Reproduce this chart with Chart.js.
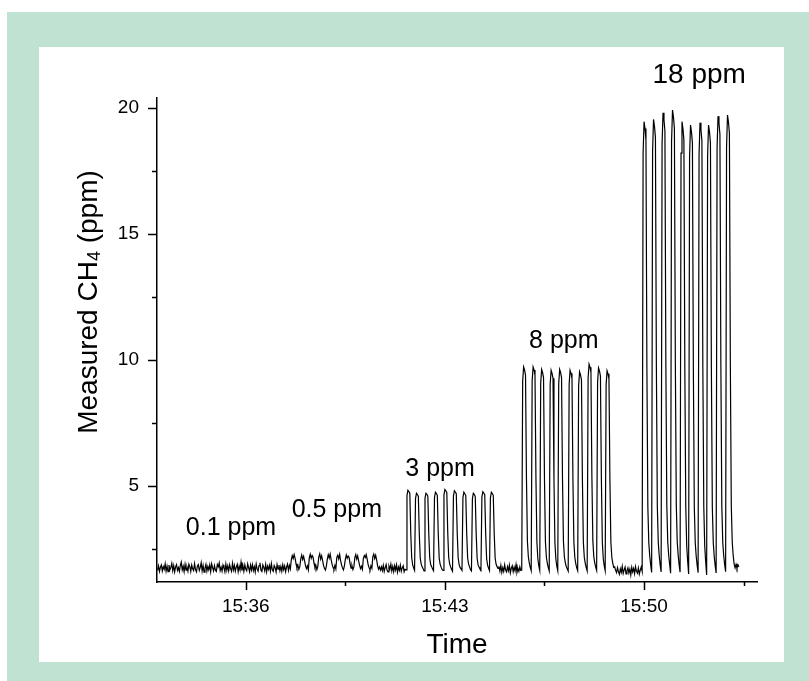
<!DOCTYPE html>
<html>
<head>
<meta charset="utf-8">
<script src="https://cdn.jsdelivr.net/npm/chart.js@4.4.1/dist/chart.umd.min.js"></script>
<style>
  html, body { margin: 0; padding: 0; background: #fff; }
  #wrap { width: 809px; height: 681px; }
</style>
</head>
<body>
<div id="wrap"><canvas id="ch4Chart" width="809" height="681"></canvas></div>
<script>
// analyser log: one reading every 2 s, first reading at 15:32.9
const startMinute = 32.9;      // minutes after 15:00
const sampleStep = 2 / 60;     // minutes per reading

// 0.1 ppm step - no response visible above the baseline
const run01 = [
  1.66,1.84,1.62,1.79,1.88,1.64,1.81,1.70,1.92,1.63,
  1.83,1.61,1.87,1.68,1.78,1.94,1.65,1.85,1.60,1.80,
  1.89,1.66,1.77,1.62,1.86,1.99,1.68,1.83,1.61,1.90,
  1.67,1.79,1.63,1.91,1.81,1.62,1.87,1.72,1.65,1.93,
  1.69,1.60,1.84,1.89,1.66,1.78,1.97,1.64,1.86,1.59,
  1.75,1.90,1.63,1.82,1.68,1.88,1.61,1.92,1.77,1.64,
  1.85,1.67,1.62,1.89,1.80,1.96,1.65,1.79,1.63,1.87,
  1.76,1.60,1.91,1.66,1.84,1.64,1.88,1.73,1.62,1.94,
  1.68,1.86,1.63,1.79,1.90,1.61,1.83,1.67,1.98,1.65,
  1.84,1.62,1.88,1.71,1.64,1.92,1.77,1.61,1.87,1.68,
  1.89,1.65,1.81,1.60,1.91,1.72,1.63,1.85,1.96,1.67,
  1.62,1.88,1.78,1.64,1.90,1.61,1.83,1.70,1.86,1.63,
  1.93,1.68,1.62,1.85,1.77,1.60,1.89,1.71,1.87,1.65,
  1.82,1.63,1.88,1.69,1.84,1.61,1.79,1.91,1.66,1.86,
  1.72
];

// 0.5 ppm pulses
const run05 = [
  2.08,2.24,2.13,2.29,2.15,1.92,1.76,1.86,1.70,1.81,
  2.12,2.27,2.10,2.22,2.04,1.85,1.73,1.84,1.68,
  2.16,2.30,2.14,2.25,2.18,1.94,1.77,1.85,1.69,1.82,
  2.20,2.32,2.11,2.24,2.06,1.86,1.74,1.67,1.83,
  2.11,2.28,2.15,2.31,2.09,1.91,1.78,1.70,1.86,1.72,
  2.18,2.26,2.12,2.30,2.05,1.88,1.76,1.68,1.84,
  2.10,2.27,2.14,2.23,2.17,1.93,1.75,1.85,1.69,1.80,
  2.17,2.29,2.11,2.24,2.04,1.87,1.73,1.82,1.70,
  2.14,2.25,2.17,2.29,2.11,1.90,1.77,1.68,1.84,1.74,
  2.21,2.31,2.13,2.26,2.08,1.85,1.71,1.80,1.67
];
const flush05 = [
  1.80,1.65,1.86,1.62,1.77,1.89,1.66,1.60,1.83,1.71,
  1.91,1.64,1.82,1.61,1.85,1.68,1.88,1.59,1.79,1.66,
  1.87,1.62,1.76,1.84,1.60,1.70
];

// 3 ppm pulses
const run3 = [
  1.68,4.63,4.84,4.79,4.72,3.12,2.16,1.88,1.76,
  1.66,4.51,4.72,4.67,4.60,3.08,2.14,1.91,1.80,1.73,
  1.64,4.52,4.72,4.68,4.61,3.09,2.15,1.89,1.81,1.72,
  1.65,4.55,4.76,4.71,4.64,3.10,2.13,1.90,1.79,1.70,
  1.66,4.66,4.87,4.82,4.75,3.14,2.17,1.92,1.80,1.71,
  1.63,4.61,4.82,4.77,4.70,3.12,2.15,1.89,1.78,1.72,
  1.66,4.55,4.76,4.70,4.63,3.10,2.14,1.91,1.80,1.69,
  1.64,4.51,4.72,4.67,4.60,3.08,2.13,1.88,1.79,1.71,
  1.66,4.57,4.78,4.73,4.66,3.11,2.12,1.87,1.75,
  1.65,4.55,4.76,4.71,4.64,3.10,2.14,1.90,1.81,1.74
];
const flush3 = [
  1.82,1.63,1.86,1.58,1.77,1.62,1.88,1.67,1.60,1.81,
  1.65,1.87,1.56,1.74,1.84,1.61,1.79,1.64,1.89,1.58,
  1.73,1.62,1.80,1.66
];

// 8 ppm pulses
const run8 = [
  1.67,9.17,9.73,9.61,9.41,5.31,2.82,2.19,1.95,1.78,
  1.65,9.17,9.73,9.61,9.41,5.30,2.79,2.12,1.84,
  1.66,9.07,9.63,9.51,9.31,5.27,2.80,2.18,1.94,1.77,
  1.64,9.04,9.60,9.48,9.28,5.26,2.77,2.11,1.83,
  1.65,9.07,9.63,9.51,9.31,5.27,2.81,2.19,1.96,1.81,1.72,
  1.63,9.04,9.60,9.48,9.28,5.26,2.79,2.17,1.93,1.76,
  1.65,8.98,9.54,9.42,9.22,5.24,2.78,2.17,1.94,1.77,
  1.64,9.28,9.84,9.72,9.52,5.35,2.84,2.20,1.96,1.79,
  1.66,9.13,9.69,9.57,9.37,5.29,2.78,2.12,1.84,
  1.65,9.02,9.58,9.46,9.26,5.25,2.80,2.18,1.95,1.78
];
const flush8 = [
  1.80,1.66,1.57,1.77,1.61,1.50,1.72,1.58,1.82,1.54,
  1.68,1.79,1.52,1.65,1.76,1.56,1.71,1.48,1.78,1.60,
  1.74,1.53,1.81,1.62,1.55,1.75,1.51,1.67,1.79
];

// 18 ppm pulses
const run18 = [
  1.62,18.21,19.46,19.19,18.74,9.68,4.18,2.76,2.23,1.88,
  1.58,18.30,19.55,19.28,18.83,9.72,4.19,2.77,2.24,1.87,
  1.60,18.56,19.81,19.54,19.09,9.84,4.23,2.78,2.25,1.90,
  1.55,18.67,19.92,19.65,19.20,9.89,4.25,2.79,2.26,1.88,
  1.59,18.21,19.46,19.19,18.74,9.68,4.18,2.62,2.02,
  1.52,18.08,19.33,19.06,18.61,9.62,4.16,2.75,2.22,1.86,
  1.57,18.17,19.42,19.15,18.70,9.66,4.17,2.61,2.00,
  1.48,18.08,19.33,19.06,18.61,9.62,4.16,2.75,2.21,1.85,
  1.56,18.43,19.68,19.41,18.96,9.78,4.21,2.77,2.24,1.89,
  1.61,18.47,19.72,19.45,19.00,9.80,4.22,2.78,2.25,1.91
];
const tail18 = [1.76,1.90,1.74,1.88,1.80];

const stepLabels = ['0.1 ppm', '0.5 ppm', '3 ppm', '8 ppm', '18 ppm'];

// axis ticks (time in minutes after 15:00)
const xMajor = [36, 43, 50];
const xMinor = [39.5, 46.5, 53.5];
const yMajor = [5, 10, 15, 20];
const yMinor = [2.5, 7.5, 12.5, 17.5];

const signal = [].concat(run01, run05, flush05, run3, flush3, run8, flush8, run18, tail18);
const points = signal.map((v, i) => ({ x: startMinute + i * sampleStep, y: v }));

const FONT = '"Liberation Sans", Arial, sans-serif';

// mint frame with white panel behind the plot
const panelBackground = {
  id: 'panelBackground',
  beforeDraw(chart) {
    const c = chart.ctx;
    c.save();
    c.fillStyle = '#ffffff';
    c.fillRect(0, 0, chart.width, chart.height);
    c.fillStyle = '#bfe2d3';
    c.fillRect(7, 12, chart.width - 7, chart.height - 12);
    c.fillStyle = '#ffffff';
    c.fillRect(39, 47, 745, 615);
    c.restore();
  }
};

// outward tick marks, short for minor ticks
const tickMarks = {
  id: 'tickMarks',
  afterDraw(chart) {
    const { ctx: c, chartArea: a, scales: { x, y } } = chart;
    c.save();
    c.strokeStyle = '#000';
    c.lineWidth = 1.5;
    c.beginPath();
    xMajor.concat(xMinor).forEach(v => {
      const px = Math.round(x.getPixelForValue(v)) + 0.5;
      const len = xMajor.includes(v) ? 8 : 4;
      c.moveTo(px, a.bottom);
      c.lineTo(px, a.bottom + len);
    });
    yMajor.concat(yMinor).forEach(v => {
      const py = Math.round(y.getPixelForValue(v)) + 0.5;
      const len = yMajor.includes(v) ? 9 : 5;
      c.moveTo(a.left, py);
      c.lineTo(a.left - len, py);
    });
    c.stroke();
    c.restore();
  }
};

// concentration labels over each pulse train, and the y title with subscript
const textLayer = {
  id: 'textLayer',
  afterDraw(chart) {
    const { ctx: c, scales: { x, y } } = chart;
    const anchors = [[35.48, 3.06], [39.2, 3.76], [42.83, 5.42], [47.18, 10.5], [51.94, 21.0]];
    const sizes = [25, 25, 25, 25, 28];
    c.save();
    c.fillStyle = '#000';
    c.textAlign = 'center';
    c.textBaseline = 'alphabetic';
    stepLabels.forEach((t, i) => {
      c.font = sizes[i] + 'px ' + FONT;
      c.fillText(t, x.getPixelForValue(anchors[i][0]), y.getPixelForValue(anchors[i][1]));
    });

    // "Measured CH4 (ppm)" rotated along the y axis
    const big = '28px ' + FONT, small = '18px ' + FONT;
    const parts = [['Measured CH', big, 0], ['4', small, 6], [' (ppm)', big, 0]];
    let total = 0;
    parts.forEach(p => { c.font = p[1]; total += c.measureText(p[0]).width; });
    c.translate(89, 302);
    c.rotate(-Math.PI / 2);
    c.textAlign = 'left';
    c.textBaseline = 'middle';
    let cx = -total / 2;
    parts.forEach(p => {
      c.font = p[1];
      c.fillText(p[0], cx, p[2]);
      cx += c.measureText(p[0]).width;
    });
    c.restore();
  }
};

const ctx = document.getElementById('ch4Chart').getContext('2d');
const chart = new Chart(ctx, {
  type: 'line',
  data: {
    datasets: [{
      data: points,
      borderColor: '#000',
      borderWidth: 1.2,
      pointRadius: 0,
      tension: 0,
      fill: false
    }]
  },
  options: {
    responsive: false,
    animation: false,
    layout: { padding: { top: 98, right: 52, left: 0, bottom: 0 } },
    plugins: { legend: { display: false }, tooltip: { enabled: false } },
    scales: {
      x: {
        type: 'linear',
        min: 32.88,
        max: 53.97,
        afterBuildTicks: s => { s.ticks = xMajor.concat(xMinor).sort((a, b) => a - b).map(v => ({ value: v })); },
        afterFit: s => { s.height = 99; },
        ticks: {
          autoSkip: false,
          maxRotation: 0,
          padding: 13,
          color: '#000',
          font: { family: FONT, size: 19 },
          callback: v => xMajor.includes(v) ? '15:' + String(v).padStart(2, '0') : ''
        },
        grid: { display: false, drawTicks: false },
        border: { display: true, color: '#000', width: 1.5 },
        title: {
          display: true,
          text: 'Time',
          color: '#000',
          font: { family: FONT, size: 28 },
          padding: { top: 0, bottom: 19 }
        }
      },
      y: {
        min: 1.2,
        max: 20.4,
        afterBuildTicks: s => { s.ticks = yMinor.concat(yMajor).sort((a, b) => a - b).map(v => ({ value: v })); },
        afterFit: s => { s.width = 157; },
        ticks: {
          autoSkip: false,
          padding: 18,
          color: '#000',
          font: { family: FONT, size: 19 },
          callback: v => yMajor.includes(v) ? String(v) : ''
        },
        grid: { display: false, drawTicks: false },
        border: { display: true, color: '#000', width: 1.5 }
      }
    }
  },
  plugins: [panelBackground, tickMarks, textLayer]
});
</script>
</body>
</html>
